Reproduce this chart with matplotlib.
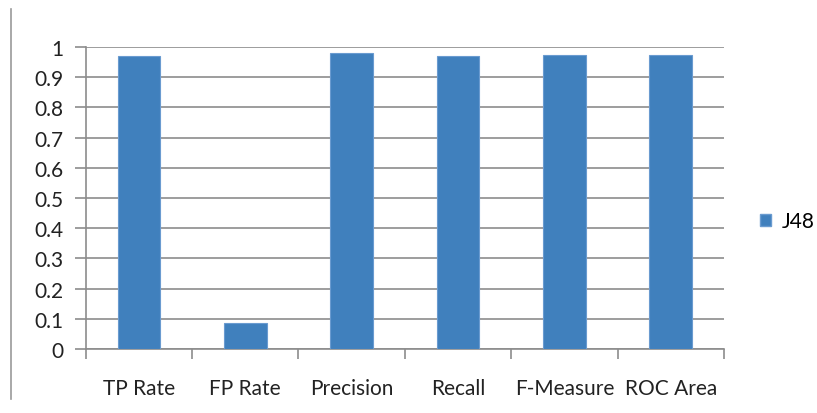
import matplotlib
matplotlib.use("Agg")
import matplotlib.pyplot as plt
from matplotlib.lines import Line2D
from matplotlib.patches import Patch
import numpy as np

categories = ["TP Rate", "FP Rate", "Precision", "Recall", "F-Measure", "ROC Area"]
j48_values = [0.971, 0.087, 0.979, 0.971, 0.973, 0.974]
y_ticks = [0, 0.1, 0.2, 0.3, 0.4, 0.5, 0.6, 0.7, 0.8, 0.9, 1]
y_tick_labels = ["0", "0.1", "0.2", "0.3", "0.4", "0.5", "0.6", "0.7", "0.8", "0.9", "1"]

plt.rcParams["font.family"] = ["Lato", "DejaVu Sans"]
FS = 15

fig = plt.figure(figsize=(8.17, 4.14), dpi=100)
ax = fig.add_axes([0.105, 0.1546, 0.781, 0.7295])

bar_color = "#4080BD"
x = np.arange(len(categories))
ax.bar(x, j48_values, width=0.4, color=bar_color, edgecolor="#6A9BD0",
       linewidth=0.8, zorder=3)

ax.set_xlim(-0.5, len(categories) - 0.5)
ax.set_ylim(0, 1)
ax.set_yticks(y_ticks)
ax.set_yticklabels(y_tick_labels, fontsize=FS, color="#222222")
ax.yaxis.grid(True, color="#8C8C8C", linewidth=1.2, zorder=0)
ax.set_axisbelow(True)

# category labels centred, tick marks at category boundaries
ax.set_xticks(x)
ax.set_xticklabels(categories, fontsize=FS, color="#222222")
ax.tick_params(axis="x", length=0, pad=21)
ax.set_xticks(np.arange(-0.5, len(categories)), minor=True)
ax.tick_params(axis="x", which="minor", length=7, width=1.2, color="#8C8C8C")
ax.tick_params(axis="y", length=8, width=1.2, color="#8C8C8C", pad=8)

for side in ["top", "right"]:
    ax.spines[side].set_visible(False)
for side in ["left", "bottom"]:
    ax.spines[side].set_color("#8C8C8C")
    ax.spines[side].set_linewidth(1.2)

handles = [Patch(facecolor=bar_color, edgecolor="#6A9BD0", label="J48")]
fig.legend(handles=handles, loc="center left", bbox_to_anchor=(0.930, 0.463),
           frameon=False, fontsize=FS, handlelength=0.55, handleheight=0.55,
           handletextpad=0.5, borderpad=0, borderaxespad=0)

# thin frame line on the left edge
fig.add_artist(Line2D([11 / 817, 11 / 817], [1 - 400 / 414, 1 - 10 / 414],
                      transform=fig.transFigure, color="#9A9A9A", linewidth=1.2))

fig.savefig("out.png", dpi=100)
